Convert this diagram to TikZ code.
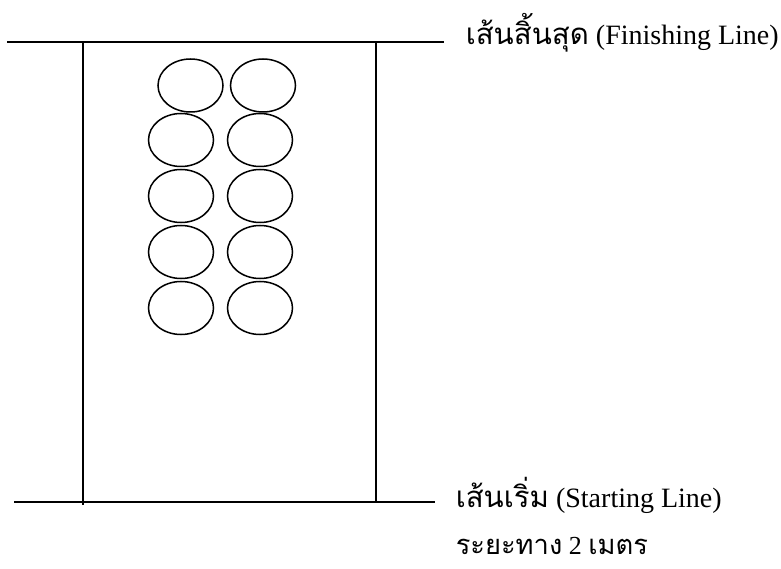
\documentclass[tikz,border=0pt]{standalone}
\usepackage{fontspec}
\setmainfont{Liberation Serif}
\newfontfamily\thaifont[Script=Thai,Scale=1.05]{Loma}
\usetikzlibrary{positioning,shapes.geometric}

\begin{document}
\begin{tikzpicture}[
  x=1pt, y=-1pt,
  line width=1.5pt,
  ball/.style={draw, ellipse, minimum width=65pt, minimum height=53pt, inner sep=0pt},
  lbl/.style={anchor=west, inner sep=0pt, font=\fontsize{28}{32}\selectfont}
]
\useasboundingbox (0,0) rectangle (781,569);
% lines
\draw (7,42) -- (444,42);
\draw (14,502) -- (435,502);
\draw (83,42) -- (83,505);
\draw (376,42) -- (376,502);
% balls
\node[ball] (b1l) at (190.5,85.5) {};
\node[ball] (b1r) at (263,85.5) {};
\foreach \r/\y in {2/140,3/196,4/252,5/308}{
  \node[ball] (b\r l) at (181,\y) {};
  \node[ball] (b\r r) at (260,\y) {};
}
% labels
\node[lbl] (finish) at (465,33) {{\thaifont เส้นสิ้นสุด} (Finishing Line)};
\node[lbl] (start) at (455,495) {{\thaifont เส้นเริ่ม} (Starting Line)};
\node[lbl, font=\fontsize{26}{30}\selectfont] (dist) at (455,546) {{\thaifont ระยะทาง} 2 {\thaifont เมตร}};
\end{tikzpicture}
\end{document}
